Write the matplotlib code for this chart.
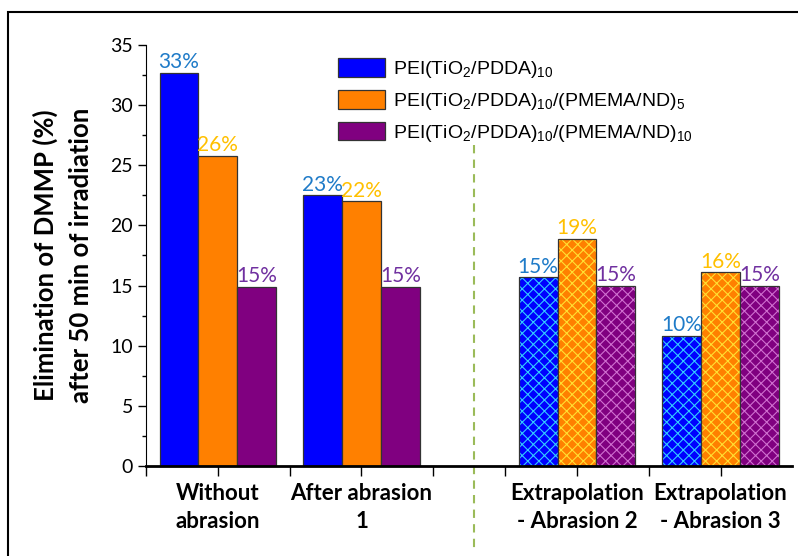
import numpy as np
import matplotlib.pyplot as plt
from matplotlib.patches import Rectangle

plt.rcParams['font.family'] = ['Lato', 'DejaVu Sans']
plt.rcParams['mathtext.default'] = 'regular'
plt.rcParams['hatch.linewidth'] = 0.8

groups = ['Without\nabrasion', 'After abrasion\n1', 'Extrapolation\n- Abrasion 2', 'Extrapolation\n- Abrasion 3']
group_pos = [1.0, 2.0, 3.5, 4.5]
hatched = [False, False, True, True]

series_names = ['PEI(TiO$_2$/PDDA)$_{10}$',
                'PEI(TiO$_2$/PDDA)$_{10}$/(PMEMA/ND)$_5$',
                'PEI(TiO$_2$/PDDA)$_{10}$/(PMEMA/ND)$_{10}$']
values = [
    [32.7, 22.5, 15.7, 10.8],   # blue
    [25.8, 22.0, 18.9, 16.1],   # orange
    [14.9, 14.9, 15.0, 15.0],   # purple
]
labels = [
    ['33%', '23%', '15%', '10%'],
    ['26%', '22%', '19%', '16%'],
    ['15%', '15%', '15%', '15%'],
]

fill_colors = ['#0000FF', '#FF8000', '#800080']
hatch_colors = ['#33CCFF', '#FFE033', '#D070D0']
label_colors = ['#1F7BC8', '#FFC000', '#7030A0']

fig = plt.figure(figsize=(7.98, 5.56), dpi=100)
ax = fig.add_axes([0.183, 0.162, 0.810, 0.757])

w = 0.27
x = np.array(group_pos)
for i in range(3):
    xs = x + (i - 1) * w
    for j in range(len(groups)):
        if hatched[j]:
            ax.bar(xs[j], values[i][j], w, color=fill_colors[i], edgecolor=hatch_colors[i],
                   hatch='xxx', linewidth=0)
            ax.bar(xs[j], values[i][j], w, facecolor='none', edgecolor='#333333', linewidth=0.9)
        else:
            ax.bar(xs[j], values[i][j], w, color=fill_colors[i], edgecolor='#333333',
                   linewidth=0.9, label=series_names[i] if j == 0 else None)
        ax.text(xs[j], values[i][j] + 0.05, labels[i][j], ha='center', va='bottom',
                color=label_colors[i], fontsize=15)

ax.set_xlim(0.5, 5.0)
ax.set_ylim(0, 35)
ax.set_xticks(group_pos)
ax.set_xticklabels(groups, fontsize=16, fontweight='bold', linespacing=1.45)
ax.set_xticks([0.5, 1.5, 2.5, 3.0, 4.0], minor=True)
ax.tick_params(axis='x', which='both', direction='out', length=7, width=1, pad=5)
ax.set_yticks(np.arange(0, 36, 5))
ax.set_yticks(np.arange(2.5, 35, 5), minor=True)
ax.tick_params(axis='y', which='major', direction='out', length=6, width=1, labelsize=14)
ax.tick_params(axis='y', which='minor', direction='out', length=3, width=1)
ax.spines['top'].set_visible(False)
ax.spines['right'].set_visible(False)
ax.spines['bottom'].set_linewidth(2)

ax.set_ylabel('Elimination of DMMP (%)\nafter 50 min of irradiation', fontsize=18.5,
              fontweight='bold', labelpad=12, linespacing=1.55)

# dashed separator
ax.plot([2.78, 2.78], [26.7, -6.8], ls=(0, (4, 3)), color='#9BBB59', lw=1.5, clip_on=False)

leg = ax.legend(loc='upper left', bbox_to_anchor=(0.27, 1.01), frameon=False,
                prop={'family': ['Liberation Sans'], 'size': 14},
                handlelength=2.4, handleheight=1.1, labelspacing=0.5, handletextpad=0.45)

fig.patches.append(Rectangle((0.01, -0.1), 1.2, 1.078, transform=fig.transFigure,
                             fill=False, edgecolor='black', linewidth=1.5))

fig.savefig('out.png', dpi=100)
